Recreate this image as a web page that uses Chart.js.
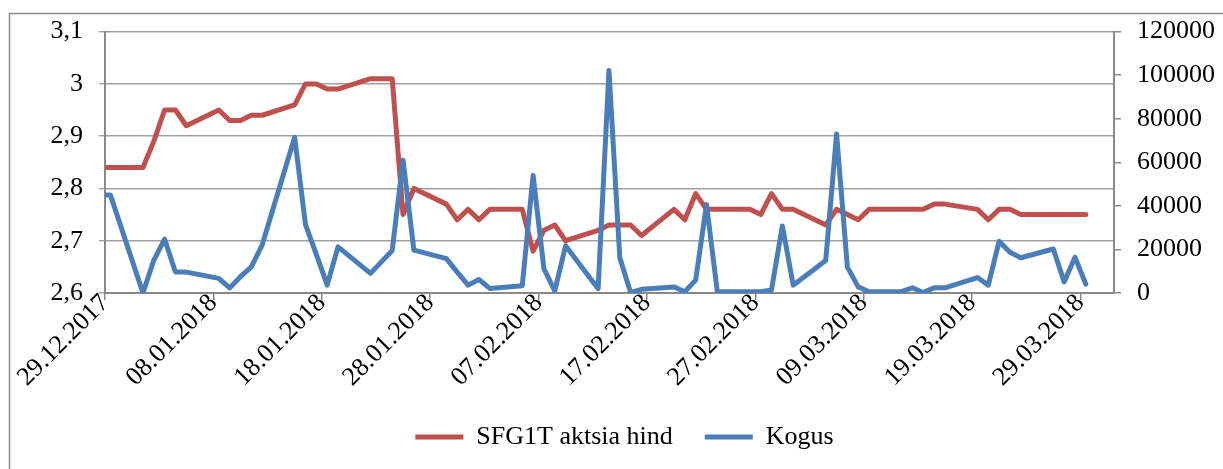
<!DOCTYPE html>
<html>
<head>
<meta charset="utf-8">
<title>SFG1T aktsia hind ja kogus</title>
<script src="https://cdn.jsdelivr.net/npm/chart.js@4.4.1/dist/chart.umd.min.js"></script>
<style>
  html, body { margin: 0; padding: 0; background: #fff; }
</style>
</head>
<body>
<canvas id="priceChart" width="1223" height="469"></canvas>
<script>
// tööpäevad (28.12 on vasakust servast väljas, joon lõigatakse)
const dates = [
  '28.12.2017', '29.12.2017',
  '01.01.2018', '02.01.2018', '03.01.2018', '04.01.2018', '05.01.2018',
  '08.01.2018', '09.01.2018', '10.01.2018', '11.01.2018', '12.01.2018',
  '15.01.2018', '16.01.2018', '17.01.2018', '18.01.2018', '19.01.2018',
  '22.01.2018', '23.01.2018', '24.01.2018', '25.01.2018', '26.01.2018',
  '29.01.2018', '30.01.2018', '31.01.2018', '01.02.2018', '02.02.2018',
  '05.02.2018', '06.02.2018', '07.02.2018', '08.02.2018', '09.02.2018',
  '12.02.2018', '13.02.2018', '14.02.2018', '15.02.2018', '16.02.2018',
  '19.02.2018', '20.02.2018', '21.02.2018', '22.02.2018', '23.02.2018',
  '26.02.2018', '27.02.2018', '28.02.2018', '01.03.2018', '02.03.2018',
  '05.03.2018', '06.03.2018', '07.03.2018', '08.03.2018', '09.03.2018',
  '12.03.2018', '13.03.2018', '14.03.2018', '15.03.2018', '16.03.2018',
  '19.03.2018', '20.03.2018', '21.03.2018', '22.03.2018', '23.03.2018',
  '26.03.2018', '27.03.2018', '28.03.2018', '29.03.2018'
];

const price = [
  2.84, 2.84,
  2.84, 2.89, 2.95, 2.95, 2.92,
  2.95, 2.93, 2.93, 2.94, 2.94,
  2.96, 3.00, 3.00, 2.99, 2.99,
  3.01, 3.01, 3.01, 2.75, 2.80,
  2.77, 2.74, 2.76, 2.74, 2.76,
  2.76, 2.68, 2.72, 2.73, 2.70,
  2.72, 2.73, 2.73, 2.73, 2.71,
  2.76, 2.74, 2.79, 2.76, 2.76,
  2.76, 2.75, 2.79, 2.76, 2.76,
  2.73, 2.76, 2.75, 2.74, 2.76,
  2.76, 2.76, 2.76, 2.77, 2.77,
  2.76, 2.74, 2.76, 2.76, 2.75,
  2.75, 2.75, 2.75, 2.75
];

const volume = [
  45000, 45000,
  0, 15000, 24700, 9600, 9600,
  6700, 2300, 7500, 12000, 22000,
  71500, 31400, 17700, 3600, 21200,
  9000, 14300, 19500, 61000, 19700,
  15800, 9600, 3600, 6200, 2100,
  3300, 54000, 11200, 1000, 21700,
  2000, 102200, 16200, 200, 1700,
  2800, 600, 5900, 40600, 600,
  600, 600, 1400, 30800, 3600,
  14900, 73000, 11900, 2800, 600,
  600, 2400, 200, 2400, 2400,
  7100, 3600, 23700, 18700, 16200,
  20200, 5100, 16400, 4100
];

const tickLabels = [
  '29.12.2017', '08.01.2018', '18.01.2018', '28.01.2018', '07.02.2018',
  '17.02.2018', '27.02.2018', '09.03.2018', '19.03.2018', '29.03.2018'
];

// päevade arv alates 29.12.2017
function dayNum(s) {
  const [d, m, y] = s.split('.').map(Number);
  return (Date.UTC(y, m - 1, d) - Date.UTC(2017, 11, 29)) / 86400000;
}

const grey = '#888888';
const gridGrey = '#a0a0a0';

Chart.defaults.font.family = "'Liberation Serif', 'Times New Roman', serif";
Chart.defaults.font.size = 26;
Chart.defaults.color = '#000';

// välimine raam nagu Exceli diagrammil
const framePlugin = {
  id: 'frame',
  beforeDraw(chart) {
    const c = chart.ctx;
    c.save();
    c.strokeStyle = '#8c8c8c';
    c.lineWidth = 1.5;
    c.beginPath();
    c.moveTo(9.5, chart.height);
    c.lineTo(9.5, 13.5);
    c.lineTo(chart.width, 13.5);
    c.stroke();
    c.restore();
  }
};

const ctx = document.getElementById('priceChart').getContext('2d');
const myChart = new Chart(ctx, {
  type: 'line',
  data: {
    datasets: [
      {
        label: 'SFG1T aktsia hind',
        data: dates.map((d, i) => ({ x: dayNum(d), y: price[i] })),
        borderColor: '#c0504d',
        backgroundColor: '#c0504d',
        borderWidth: 5,
        yAxisID: 'y',
        order: 1
      },
      {
        label: 'Kogus',
        data: dates.map((d, i) => ({ x: dayNum(d), y: volume[i] })),
        borderColor: '#4a7ebb',
        backgroundColor: '#4a7ebb',
        borderWidth: 5,
        yAxisID: 'y1',
        order: 0
      }
    ]
  },
  options: {
    responsive: false,
    animation: false,
    devicePixelRatio: 1,
    layout: { padding: { left: 26, right: 0, top: 28, bottom: 9 } },
    elements: {
      line: { tension: 0, borderCapStyle: 'round', borderJoinStyle: 'round' },
      point: { radius: 0, hoverRadius: 0, pointStyle: 'line' }
    },
    datasets: { line: { clip: 0 } },
    plugins: {
      tooltip: { enabled: false },
      legend: {
        position: 'bottom',
        labels: {
          usePointStyle: true,
          pointStyleWidth: 48,
          padding: 32,
          color: '#000',
          font: { size: 26 },
          sort: (a, b) => a.datasetIndex - b.datasetIndex
        }
      }
    },
    scales: {
      x: {
        type: 'linear',
        min: -0.5,
        max: 92.6,
        afterBuildTicks: (s) => {
          // Excel paneb iga päeva oma lahtri keskele
          s.ticks = tickLabels.map(t => ({ value: dayNum(t) - 0.5 }));
        },
        afterFit: (s) => { s.height = 99; },
        ticks: {
          autoSkip: false,
          minRotation: 45,
          maxRotation: 45,
          padding: -12,
          callback: (v, i) => tickLabels[i]
        },
        grid: { drawOnChartArea: false, tickLength: 7, color: grey, lineWidth: 1.5 },
        border: { color: grey, width: 2 }
      },
      y: {
        position: 'left',
        min: 2.6,
        max: 3.1,
        afterFit: (s) => { s.width = 79; },
        ticks: {
          stepSize: 0.1,
          padding: 16,
          callback: (v) => String(Math.round(v * 10) / 10).replace('.', ',')
        },
        grid: { color: gridGrey, lineWidth: 1.4, tickLength: 6 },
        border: { color: grey, width: 2 }
      },
      y1: {
        position: 'right',
        min: 0,
        max: 120000,
        afterFit: (s) => { s.width = 109; },
        ticks: {
          stepSize: 20000,
          padding: 16,
          callback: (v) => String(v)
        },
        grid: { drawOnChartArea: false, tickLength: 7, color: grey, lineWidth: 1.5 },
        border: { color: grey, width: 2 }
      }
    }
  },
  plugins: [framePlugin]
});
</script>
</body>
</html>
